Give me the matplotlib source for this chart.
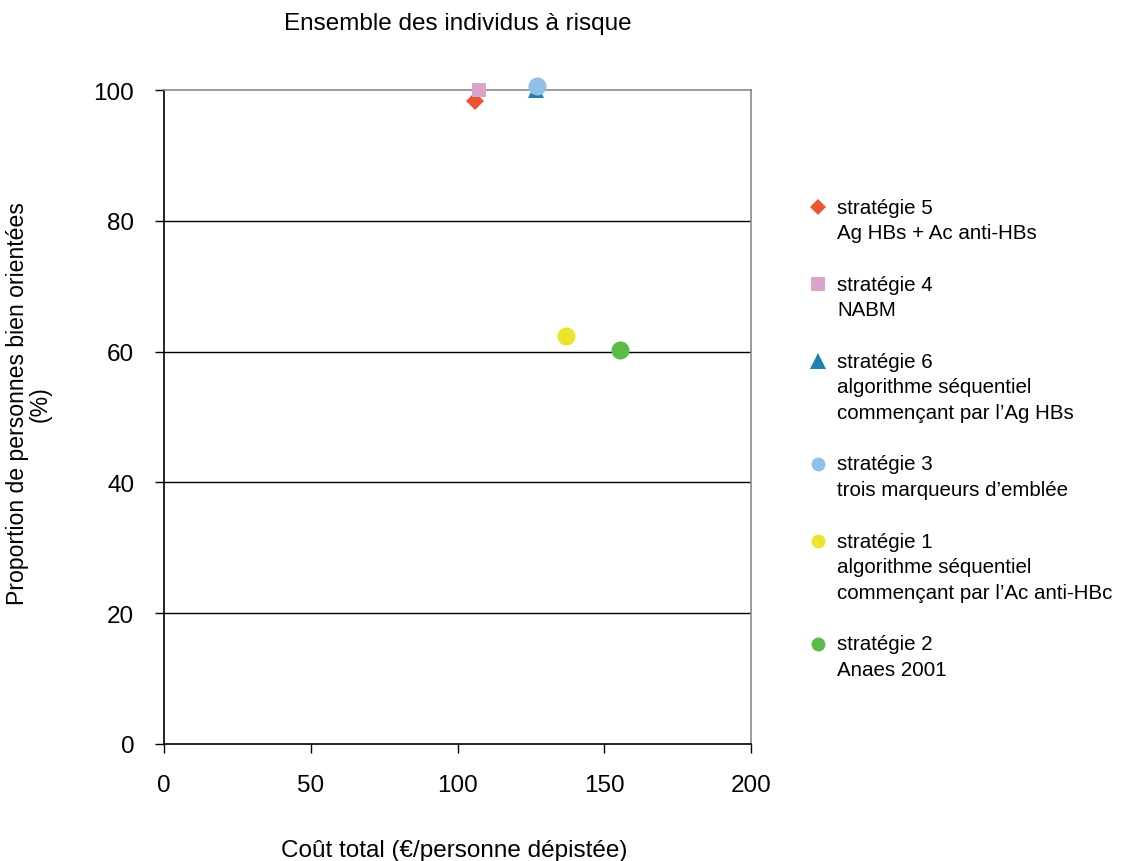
import matplotlib
matplotlib.use("Agg")
import matplotlib.pyplot as plt

plt.rcParams['font.family'] = ['Liberation Sans', 'DejaVu Sans']

# ---- data ----
strategies = ["stratégie 5", "stratégie 4", "stratégie 6", "stratégie 3", "stratégie 1", "stratégie 2"]
descriptions = [
    "Ag HBs + Ac anti-HBs",
    "NABM",
    "algorithme séquentiel\ncommençant par l’Ag HBs",
    "trois marqueurs d’emblée",
    "algorithme séquentiel\ncommençant par l’Ac anti-HBc",
    "Anaes 2001",
]
cost = [105.8, 107.2, 126.6, 127.1, 137.0, 155.3]
proportion = [98.3, 100.0, 100.0, 100.6, 62.4, 60.2]
markers = ["D", "s", "^", "o", "o", "o"]
colors = ["#EC5432", "#D9A5CC", "#1E82AA", "#8EC0E8", "#ECE42A", "#5CBA48"]
msizes = [9.5, 10.5, 11.5, 13, 13, 13]
leg_msizes = [8.5, 10, 11, 10, 10, 10]
xticks = [0, 50, 100, 150, 200]
yticks = [0, 20, 40, 60, 80, 100]

W, H = 1137, 862
fig = plt.figure(figsize=(W / 100, H / 100), dpi=100)
ax = fig.add_axes([164 / W, 1 - 745 / H, (751 - 164) / W, (745 - 91) / H])

ax.set_xlim(0, 200)
ax.set_ylim(0, 100)
ax.set_xticks(xticks)
ax.set_yticks(yticks)
ax.tick_params(axis='both', direction='out', length=6.5, width=1.0, color='black',
               labelsize=17.5, pad=15)
for y in yticks[1:-1]:
    ax.axhline(y, color='black', lw=1.0, zorder=1)
ax.spines['left'].set_color('black')
ax.spines['bottom'].set_color('black')
ax.spines['top'].set_color('#8a8a8a')
ax.spines['right'].set_color('#8a8a8a')
for s in ax.spines.values():
    s.set_linewidth(1.2)

for i in range(len(cost)):
    ax.plot([cost[i]], [proportion[i]], marker=markers[i], color=colors[i],
            markersize=msizes[i], linestyle='none', clip_on=False, zorder=3 + i,
            markeredgewidth=0)

# legend drawn manually (marker aligned with first line)
line_h = 25.7
y0 = 208
for i in range(len(strategies)):
    lines = [strategies[i]] + descriptions[i].split("\n")
    fy = 1 - y0 / H
    fig.lines.append(plt.Line2D([818 / W], [fy], marker=markers[i], color=colors[i],
                                markersize=leg_msizes[i], markeredgewidth=0,
                                linestyle='none', transform=fig.transFigure))
    for k, t in enumerate(lines):
        fig.text(837 / W, 1 - (y0 + k * line_h) / H, t, fontsize=14.8, va='center', ha='left')
    y0 += (len(lines) + 1) * line_h

fig.text(457.5 / W, 1 - 24 / H, "Ensemble des individus à risque", fontsize=17.5,
         ha='center', va='center')
fig.text(454 / W, 1 - 851 / H, "Coût total (€/personne dépistée)", fontsize=17.5,
         ha='center', va='center')
fig.text(29 / W, 1 - 404 / H, "Proportion de personnes bien orientées\n(%)", fontsize=16.6,
         ha='center', va='center', rotation=90, multialignment='center', linespacing=1.0)

fig.savefig("out.png", dpi=100)
